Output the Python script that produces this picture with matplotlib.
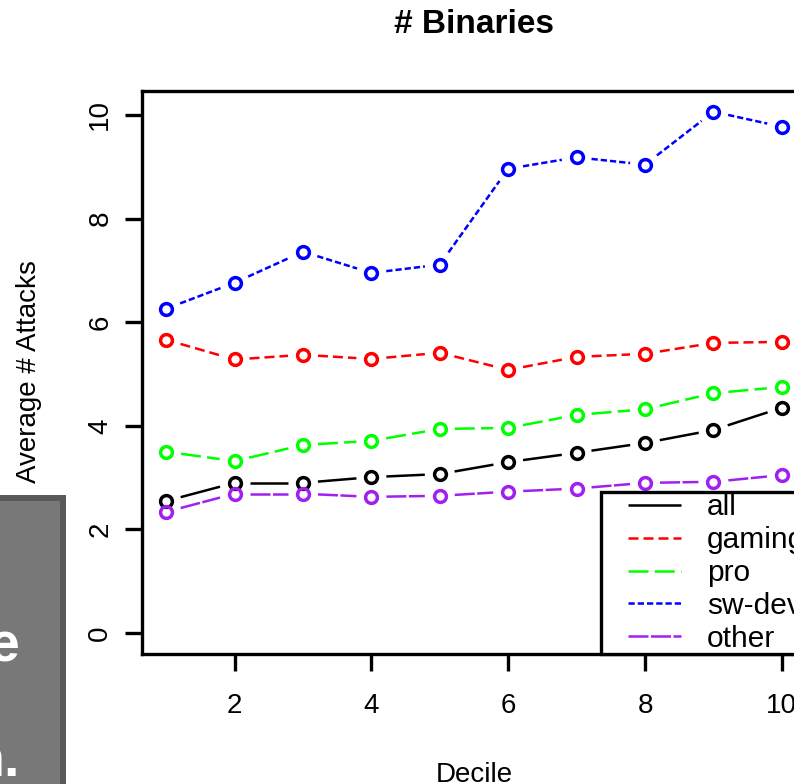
import numpy as np
import matplotlib
matplotlib.use("Agg")
import matplotlib.pyplot as plt
from matplotlib.lines import Line2D
from matplotlib.legend_handler import HandlerLine2D
from matplotlib.patches import Rectangle

plt.rcParams['font.family'] = ['Liberation Sans', 'DejaVu Sans']

# data
decile = [1, 2, 3, 4, 5, 6, 7, 8, 9, 10]
all_users = [2.55, 2.90, 2.90, 3.01, 3.07, 3.30, 3.48, 3.67, 3.92, 4.35]
gaming = [5.66, 5.28, 5.37, 5.29, 5.41, 5.08, 5.33, 5.39, 5.60, 5.62]
pro = [3.50, 3.32, 3.63, 3.71, 3.94, 3.96, 4.21, 4.32, 4.63, 4.75]
sw_dev = [6.26, 6.76, 7.36, 6.95, 7.11, 8.96, 9.18, 9.04, 10.06, 9.77]
other = [2.34, 2.69, 2.69, 2.63, 2.65, 2.73, 2.79, 2.90, 2.92, 3.05]

series_names = ["all", "gaming", "pro", "sw-dev", "other"]
series_vals = [all_users, gaming, pro, sw_dev, other]
colors = ["black", "#ff0000", "#00ff00", "#0000ff", "#a020f0"]
dashes = [None, (4, 2), (8, 2.5), (2.5, 1.2), (8, 1)]

W, H = 794, 784
fig = plt.figure(figsize=(W / 100, H / 100), dpi=100)
# axes box runs past the right edge like the cropped original
ax = fig.add_axes([141.5 / W, 1 - 654 / H, (806.5 - 141.5) / W, (654 - 91) / H])
ax.set_xlim(0.64, 10.36)
ax.set_ylim(-0.402, 10.46)

LW = 1.8


def gapped_line(ax, x, y, gap, **kw):
    # R type="b": segments stop short of the points
    pts = ax.transData.transform(np.column_stack([x, y]))
    inv = ax.transData.inverted()
    for i in range(len(pts) - 1):
        p0, p1 = pts[i], pts[i + 1]
        d = p1 - p0
        L = np.hypot(d[0], d[1])
        if L <= 2 * gap:
            continue
        u = d / L
        a = inv.transform(p0 + u * gap)
        b = inv.transform(p1 - u * gap)
        ax.plot([a[0], b[0]], [a[1], b[1]], **kw)


for name, vals, c, ds in zip(series_names, series_vals, colors, dashes):
    kw = dict(color=c, lw=LW, solid_capstyle='butt', dash_capstyle='butt')
    if ds is not None:
        kw['dashes'] = ds
    gapped_line(ax, decile, vals, 15, **kw)
    ax.plot(decile, vals, ls='none', marker='o', ms=8.5, mew=2.5,
            mfc='none', mec=c)

for s in ax.spines.values():
    s.set_linewidth(2.4)
ax.set_xticks([2, 4, 6, 8, 10])
ax.set_yticks([0, 2, 4, 6, 8, 10])
ax.tick_params(axis='both', length=12.3, width=2.4, labelsize=20)
ax.tick_params(axis='x', pad=16)
ax.tick_params(axis='y', pad=8)
for lab in ax.get_yticklabels():
    lab.set_rotation(90)
    lab.set_va('center')

handles = []
for name, c, ds in zip(series_names, colors, dashes):
    h = Line2D([], [], color=c, lw=LW, solid_capstyle='butt', dash_capstyle='butt')
    if ds is not None:
        h.set_dashes(ds)
    handles.append(h)
leg = ax.legend(handles, series_names, loc='lower right', bbox_to_anchor=(1, 0),
                borderaxespad=0, fontsize=21.5, fancybox=False, framealpha=1,
                edgecolor='black', borderpad=0.05, labelspacing=0.16,
                handlelength=3.5, handletextpad=0.0,
                handler_map={Line2D: HandlerLine2D(numpoints=2, marker_pad=0.85)})
leg.get_frame().set_linewidth(2.4)

fig.text(474 / W, 1 - 33 / H, "# Binaries", ha='center', va='baseline',
         fontsize=24, fontweight='bold')
fig.text(474 / W, 1 - 782 / H, "Decile", ha='center', va='baseline', fontsize=20)
fig.text(29 / W, 1 - 372 / H, "Average # Attacks", ha='center', va='center',
         rotation=90, fontsize=20)

# grey callout box covering the lower left corner
box = Rectangle((-10 / W, -0.05), 73 / W, 0.05 + 1 - 498 / H,
                transform=fig.transFigure, facecolor='#787878',
                edgecolor='#595959', lw=4.3, zorder=10)
fig.patches.append(box)
fig.text(20 / W, 1 - 662 / H, "e", ha='right', va='baseline', color='white',
         fontsize=40, fontweight='bold', zorder=11)
fig.text(20 / W, 1 - 776 / H, "n.", ha='right', va='baseline', color='white',
         fontsize=40, fontweight='bold', zorder=11)

fig.savefig("out.png", dpi=100)
